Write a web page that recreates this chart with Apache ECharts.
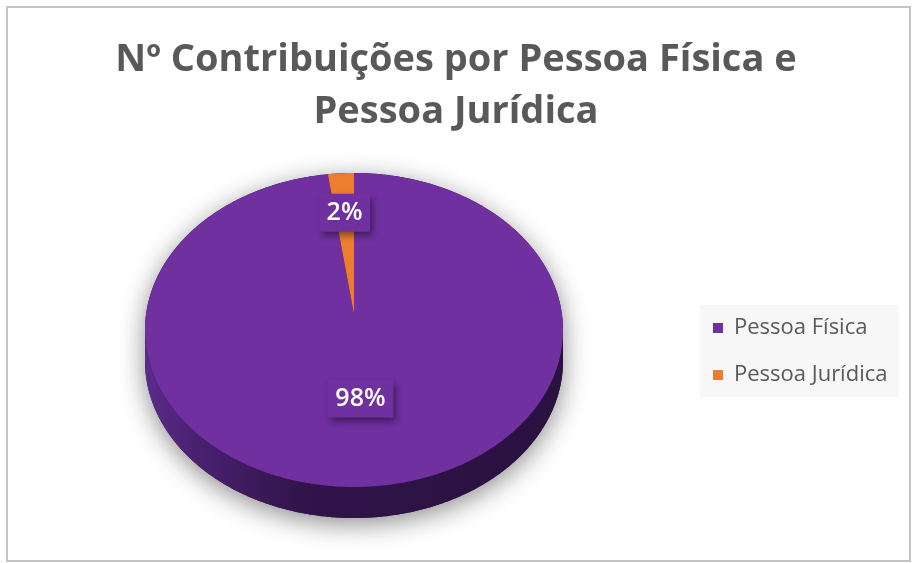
<!DOCTYPE html>
<html>
<head>
<meta charset="utf-8">
<script src="https://cdn.jsdelivr.net/npm/echarts@6/dist/echarts.min.js"></script>
<style>
  html, body { margin: 0; padding: 0; background: #ffffff; }
  #chart { width: 912px; height: 563px; }
</style>
</head>
<body>
<div id="chart"></div>
<script>
// Contributions split by person type
const categories = ['Pessoa Física', 'Pessoa Jurídica'];
const shares = [98, 2];
const sliceColors = ['#7030a0', '#ed7d31'];

const titleText = 'Nº Contribuições por Pessoa Física e\nPessoa Jurídica';

// Tilted-disc geometry for the pie
const PIE = { cx: 354, cy: 330, rx: 209, ry: 157, tipY: 314, depth: 31 };

const total = shares.reduce((a, b) => a + b, 0);

function rim(theta, dy) {
  return [PIE.cx + PIE.rx * Math.sin(theta), PIE.cy - PIE.ry * Math.cos(theta) + (dy || 0)];
}

function arcPoints(a, b, dy) {
  const pts = [];
  const n = Math.max(2, Math.ceil(Math.abs(b - a) / 0.01));
  for (let k = 0; k <= n; k++) pts.push(rim(a + (b - a) * k / n, dy));
  return pts;
}

function sideGradient() {
  return new echarts.graphic.LinearGradient(0, 0, 1, 0, [
    { offset: 0, color: '#5c2b8a' },
    { offset: 0.12, color: '#4a2170' },
    { offset: 0.38, color: '#30144a' },
    { offset: 1, color: '#2a1140' }
  ]);
}

function renderSlice(params, api) {
  const i = params.seriesIndex;
  let before = 0;
  for (let k = 0; k < i; k++) before += shares[k];
  const value = api.value(0);
  const a = before / total * Math.PI * 2;
  const b = (before + value) / total * Math.PI * 2;
  const color = sliceColors[i];
  const children = [];

  if (i === 0) {
    // silhouette of the whole disc, carrying the soft drop shadow
    const outline = arcPoints(-Math.PI / 2, Math.PI / 2, 0)
      .concat(arcPoints(Math.PI / 2, Math.PI * 1.5, PIE.depth));
    children.push({
      type: 'polygon',
      shape: { points: outline },
      style: {
        fill: '#2a1140',
        shadowBlur: 26,
        shadowColor: 'rgba(0,0,0,0.45)',
        shadowOffsetY: 6
      },
      silent: true
    });
  }

  // visible front wall of the slice
  const lo = Math.max(a, Math.PI / 2);
  const hi = Math.min(b, Math.PI * 1.5);
  if (hi > lo) {
    const side = arcPoints(lo, hi, 0).concat(arcPoints(hi, lo, PIE.depth));
    children.push({
      type: 'polygon',
      shape: { points: side },
      style: { fill: sideGradient() }
    });
  }

  // top face
  const top = [[PIE.cx, PIE.tipY]].concat(arcPoints(a, b, 0));
  children.push({
    type: 'polygon',
    shape: { points: top },
    style: { fill: color }
  });

  // percentage label in a shaded box
  const mid = (a + b) / 2;
  const frac = value / total < 0.1 ? 0.72 : 0.49;
  const lx = PIE.cx + PIE.rx * frac * Math.sin(mid);
  const ly = PIE.tipY + (PIE.cy - PIE.tipY) * frac - PIE.ry * frac * Math.cos(mid);
  const label = Math.round(value / total * 100) + '%';
  const w = 21 + 15 * label.length;
  const h = 38;
  children.push({
    type: 'rect',
    shape: { x: lx - w / 2, y: ly - h / 2, width: w, height: h },
    style: {
      fill: sliceColors[0],
      shadowBlur: 7,
      shadowOffsetX: 3,
      shadowOffsetY: 4,
      shadowColor: 'rgba(0,0,0,0.45)'
    },
    z2: 10
  });
  children.push({
    type: 'text',
    x: lx,
    y: ly,
    style: {
      text: label,
      fill: '#ffffff',
      font: '600 25px "Open Sans"',
      align: 'center',
      verticalAlign: 'middle'
    },
    z2: 11
  });

  return { type: 'group', children: children };
}

const chart = echarts.init(document.getElementById('chart'), null, { renderer: 'canvas' });

chart.setOption({
  backgroundColor: '#ffffff',
  animation: false,
  title: {
    text: titleText,
    left: 'center',
    top: 29,
    textStyle: {
      fontFamily: 'Open Sans',
      fontWeight: 'bold',
      fontSize: 38,
      lineHeight: 52,
      color: '#595959'
    }
  },
  legend: {
    orient: 'vertical',
    left: 700,
    top: 305,
    padding: [10, 11, 9, 13],
    itemGap: 21,
    itemWidth: 10,
    itemHeight: 10,
    icon: 'rect',
    backgroundColor: '#f7f7f7',
    data: categories,
    textStyle: {
      fontFamily: 'Open Sans',
      fontSize: 22,
      lineHeight: 26,
      color: '#595959',
      padding: [0, 0, 0, 6]
    }
  },
  graphic: [{
    type: 'rect',
    shape: { x: 7, y: 7, width: 903, height: 554 },
    style: { fill: null, stroke: '#c4c4c4', lineWidth: 2 },
    silent: true,
    z: -1
  }],
  series: categories.map((name, i) => ({
    type: 'custom',
    name: name,
    coordinateSystem: 'none',
    itemStyle: { color: sliceColors[i] },
    renderItem: renderSlice,
    data: [[shares[i]]]
  }))
});
</script>
</body>
</html>
